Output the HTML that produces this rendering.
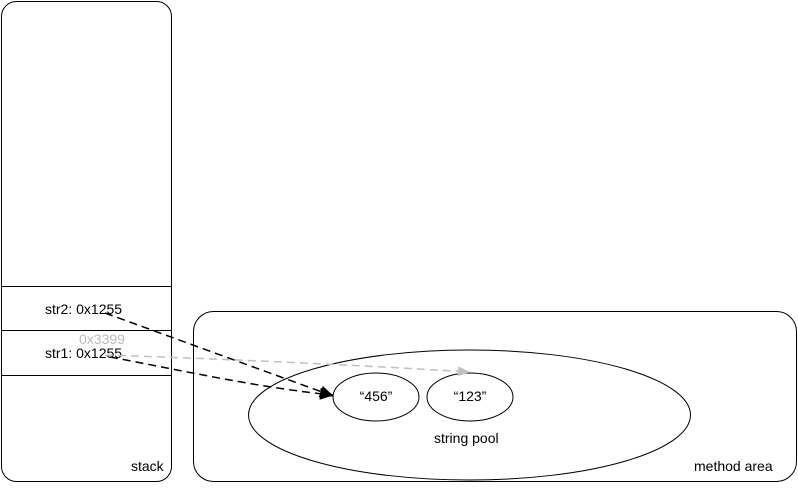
<!DOCTYPE html>
<html><head><style>body{margin:0;background:#fff}</style></head><body>
<svg width="798" height="483" xmlns="http://www.w3.org/2000/svg" font-family="Liberation Sans, sans-serif">
<defs>
<marker id="a" markerWidth="14" markerHeight="12" refX="13" refY="6" orient="auto" markerUnits="userSpaceOnUse"><path d="M0,0 L14,6 L0,12 Z" fill="#000"/></marker>
<marker id="g" markerWidth="12" markerHeight="10" refX="11" refY="5" orient="auto" markerUnits="userSpaceOnUse"><path d="M0,0 L12,5 L0,10 Z" fill="#c0c0c0"/></marker>
</defs>
<rect x="1.5" y="1.5" width="170" height="480" rx="15" fill="#fff" stroke="#000"/>
<line x1="1.5" y1="286.5" x2="171.5" y2="286.5" stroke="#000"/>
<line x1="1.5" y1="330.5" x2="171.5" y2="330.5" stroke="#000"/>
<line x1="1.5" y1="375.5" x2="171.5" y2="375.5" stroke="#000"/>
<text x="45" y="314" font-size="14">str2: 0x1255</text>
<text x="79" y="344" font-size="14" fill="#bbb">0x3399</text>
<text x="45" y="358" font-size="14">str1: 0x1255</text>
<text x="131" y="471" font-size="14">stack</text>
<rect x="193.5" y="311.5" width="603" height="170" rx="20" fill="none" stroke="#000"/>
<text x="694" y="471" font-size="14">method area</text>
<ellipse cx="469.5" cy="415" rx="221" ry="65" fill="none" stroke="#000"/>
<ellipse cx="376" cy="397" rx="43" ry="24" fill="none" stroke="#000"/>
<ellipse cx="470" cy="397" rx="43" ry="24" fill="none" stroke="#000"/>
<text x="376" y="401" font-size="14" text-anchor="middle">“456”</text>
<text x="470" y="401" font-size="14" text-anchor="middle">“123”</text>
<text x="434" y="443" font-size="14">string pool</text>
<path d="M105,313 L333,396" stroke="#000" stroke-width="1.5" stroke-dasharray="8,5" fill="none" marker-end="url(#a)"/>
<path d="M110,357 C180,370 260,388 333,395" stroke="#000" stroke-width="1.5" stroke-dasharray="8,5" fill="none" marker-end="url(#a)"/>
<path d="M105,355 C200,358 360,365 469,372" stroke="#c0c0c0" stroke-width="1.5" stroke-dasharray="8,5" fill="none" marker-end="url(#g)"/>
</svg>
</body></html>
